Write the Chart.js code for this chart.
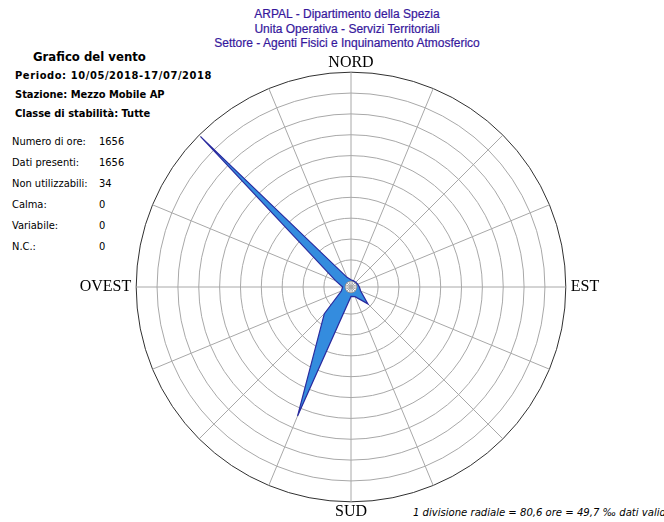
<!DOCTYPE html>
<html>
<head>
<meta charset="utf-8">
<script src="https://cdn.jsdelivr.net/npm/chart.js@4.4.1/dist/chart.umd.min.js"></script>
<style>
  html, body { margin: 0; padding: 0; background: #fff; }
  body { width: 664px; height: 522px; overflow: hidden; position: relative; }
  #chart { position: absolute; left: 56px; top: 53px; }
  .t { position: absolute; white-space: nowrap; }
  #title { left: 0; width: 694px; top: 7px; text-align: center; font: 12px/14.5px "Liberation Sans", Arial, sans-serif; color: #36189c; -webkit-text-stroke: 0.2px #36189c; }
  .b { font-family: "DejaVu Sans Condensed", "DejaVu Sans", sans-serif; font-weight: bold; color: #000; }
  .r { font-family: "DejaVu Sans Condensed", "DejaVu Sans", sans-serif; color: #000; font-size: 11px; line-height: 13px; }
  #note { left: 413px; top: 506px; font: italic 11.2px/13px "DejaVu Sans Condensed", "DejaVu Sans", sans-serif; color: #000; }
</style>
</head>
<body>
<div id="title" class="t">ARPAL - Dipartimento della Spezia<br>Unita Operativa - Servizi Territoriali<br>Settore - Agenti Fisici e Inquinamento Atmosferico</div>
<div class="t b" style="left:33px; top:49px; font-size:13px; line-height:15px;">Grafico del vento</div>
<div class="t b" style="left:15px; top:69px; font-size:11px; line-height:13px; letter-spacing:0.6px;">Periodo: 10/05/2018-17/07/2018</div>
<div class="t b" style="left:15px; top:88px; font-size:11px; line-height:13px;">Stazione: Mezzo Mobile AP</div>
<div class="t b" style="left:15px; top:107px; font-size:11px; line-height:13px;">Classe di stabilità: Tutte</div>
<div id="stats"></div>
<div id="note" class="t">1 divisione radiale = 80,6 ore = 49,7 ‰ dati validi</div>
<canvas id="chart" width="590" height="469"></canvas>
<script>
// 16 wind sectors, clockwise from North
const directions = ["NORD", "NNE", "NE", "ENE", "EST", "ESE", "SE", "SSE", "SUD", "SSW", "SW", "WSW", "OVEST", "WNW", "NW", "NNW"];
const shownLabels = ["NORD", "EST", "SUD", "OVEST"];
// frequency per sector, in per mille of valid data
const frequency = [2.5, 1, 1, 2.5, 5, 10, 42, 10, 7.5, 318, 75, 10, 5, 25, 492, 10];
// calm circle (Calma = 0)
const calm = [0, 0, 0, 0, 0, 0, 0, 0, 0, 0, 0, 0, 0, 0, 0, 0];
// radial division: 49.7 per mille (80.6 hours)
const division = 49.7;
const ringValues = [0, 1, 2, 3, 4, 5, 6, 7, 8, 9, 10].map(k => k * division);
const statLabels = ["Numero di ore:", "Dati presenti:", "Non utilizzabili:", "Calma:", "Variabile:", "N.C.:"];
const statValues = ["1656", "1656", "34", "0", "0", "0"];

const stats = document.getElementById('stats');
statLabels.forEach((lab, i) => {
  const y = 135 + i * 21;
  const a = document.createElement('div');
  a.className = 't r'; a.style.left = '12px'; a.style.top = y + 'px'; a.textContent = lab;
  const b = document.createElement('div');
  b.className = 't r'; b.style.left = '99px'; b.style.top = y + 'px'; b.textContent = statValues[i];
  stats.appendChild(a); stats.appendChild(b);
});

const maxVal = ringValues[ringValues.length - 1];
new Chart(document.getElementById('chart'), {
  type: 'radar',
  data: {
    labels: directions.map(d => shownLabels.includes(d) ? d : ''),
    datasets: [
      {
        data: frequency,
        backgroundColor: 'rgb(52,140,222)',
        borderColor: '#2a2a9e',
        borderWidth: 1.2,
        pointRadius: 0,
        tension: 0,
        fill: true
      },
      {
        data: calm,
        backgroundColor: 'rgb(125,135,145)',
        borderColor: 'rgb(110,110,120)',
        borderWidth: 1,
        pointRadius: 0,
        fill: true
      }
    ]
  },
  options: {
    responsive: false,
    animation: false,
    plugins: { legend: { display: false }, tooltip: { enabled: false } },
    layout: { padding: 0 },
    scales: {
      r: {
        min: -0.3 * division,
        max: maxVal,
        afterBuildTicks: (scale) => { scale.ticks = ringValues.map(v => ({ value: v })); },
        ticks: { display: false },
        grid: {
          circular: true,
          color: (ctx) => (ctx.tick && ctx.tick.value >= maxVal - 0.01) ? '#303030' : '#a8a8a8',
          lineWidth: 1
        },
        angleLines: { color: '#a8a8a8', lineWidth: 1 },
        pointLabels: {
          display: true,
          color: '#000',
          padding: (ctx) => (ctx.index % 8 === 0 ? 0 : 5),
          font: (ctx) => ({ family: '"Liberation Serif", "Times New Roman", serif', size: ctx.label ? 16 : 1 })
        }
      }
    }
  }
});
</script>
</body>
</html>
